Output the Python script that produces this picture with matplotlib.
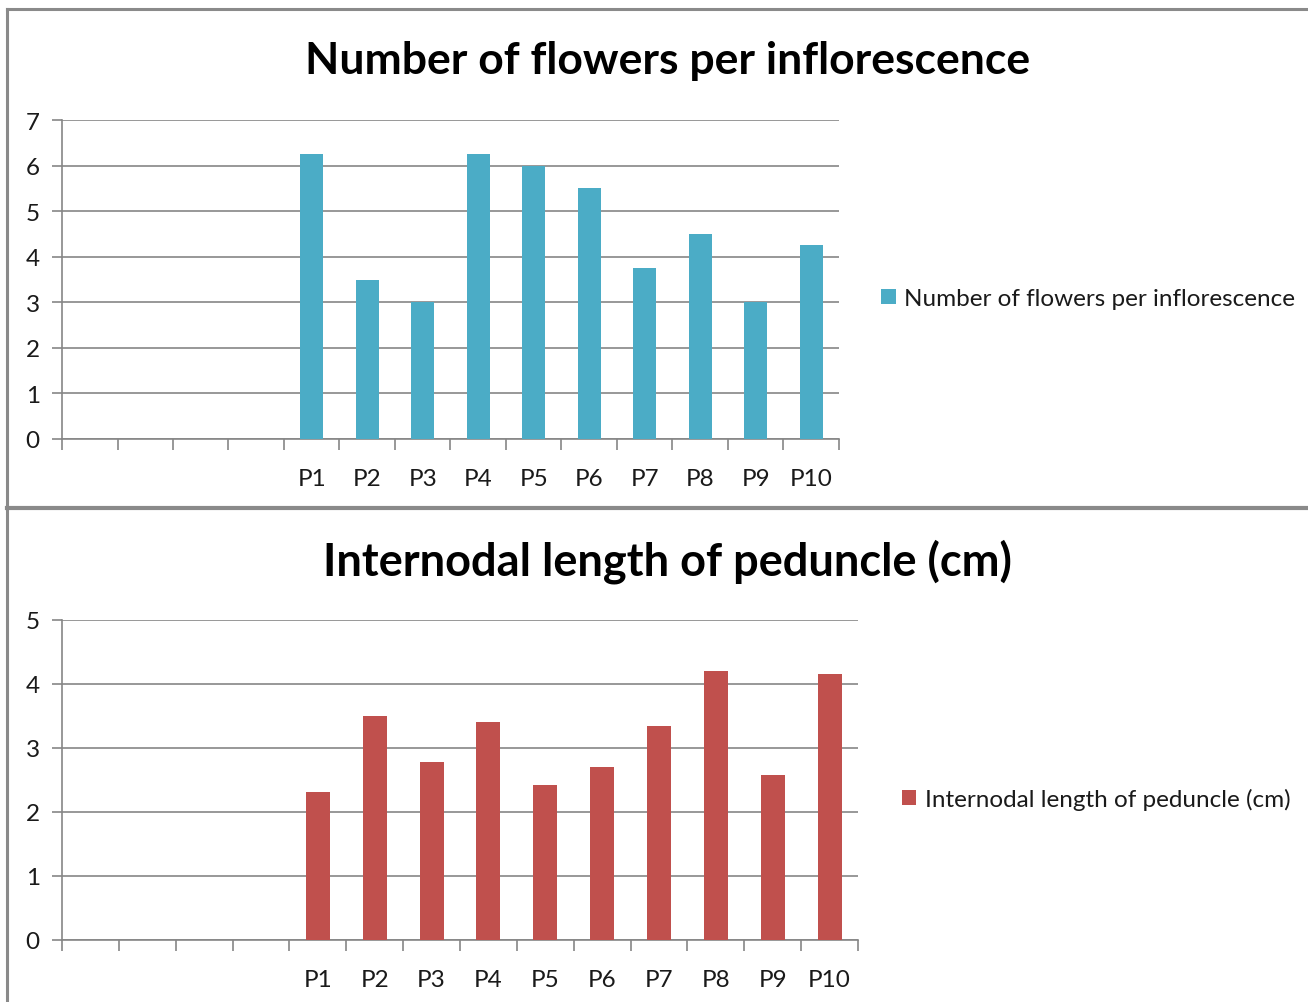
import matplotlib
matplotlib.use("Agg")
import matplotlib.pyplot as plt
import numpy as np
from matplotlib.lines import Line2D

categories = ["", "", "", "", "P1", "P2", "P3", "P4", "P5", "P6", "P7", "P8", "P9", "P10"]
flowers = [np.nan, np.nan, np.nan, np.nan, 6.25, 3.5, 3.0, 6.25, 6.0, 5.5, 3.75, 4.5, 3.0, 4.25]
internode = [np.nan, np.nan, np.nan, np.nan, 2.32, 3.5, 2.78, 3.4, 2.42, 2.7, 3.34, 4.21, 2.58, 4.16]

title1 = "Number of flowers per inflorescence"
title2 = "Internodal length of peduncle (cm)"

plt.rcParams['font.family'] = ['Lato', 'DejaVu Sans']

W, H = 1308, 1003
fig = plt.figure(figsize=(W / 100, H / 100), dpi=100)
fig.patch.set_facecolor("white")

GRID = "#868686"
TXT = "#1a1a1a"

def fx(px):
    return px / W

def fy(py):
    return 1 - py / H

def panel(rect, values, color, ymax, title, title_y, leg_x, title_size):
    ax = fig.add_axes(rect)
    x = np.arange(len(categories))
    ax.bar(x, values, width=0.42, color=color, zorder=3, label=title)
    ax.set_xlim(-0.5, len(categories) - 0.5)
    ax.set_ylim(0, ymax)
    ax.set_yticks(range(0, ymax + 1))
    ax.yaxis.grid(True, color=GRID, linewidth=1.2, zorder=0)
    ax.set_axisbelow(True)
    for s in ["top", "right"]:
        ax.spines[s].set_visible(False)
    for s in ["left", "bottom"]:
        ax.spines[s].set_color(GRID)
        ax.spines[s].set_linewidth(1.2)
    ax.set_xticks(x)
    ax.set_xticklabels(categories)
    ax.set_xticks(np.arange(-0.5, len(categories)), minor=True)
    ax.tick_params(axis="x", which="major", length=0, pad=21, labelsize=17.5, labelcolor=TXT)
    ax.tick_params(axis="x", which="minor", length=8, width=1.2, color=GRID, direction="out")
    ax.tick_params(axis="y", length=7, width=1.2, color=GRID, pad=9, labelsize=17.5, labelcolor=TXT)
    fig.text(0.51, title_y, title, ha="center", va="center", fontsize=title_size,
             fontweight="bold", color="black")
    ax.legend(loc="center left", bbox_to_anchor=(leg_x, 0.44), frameon=False,
              handlelength=0.6, handleheight=0.6, handletextpad=0.35,
              borderpad=0, borderaxespad=0, fontsize=17.5, labelcolor=TXT)
    return ax

ax1 = panel([fx(62), fy(440), fx(839) - fx(62), fy(121) - fy(440)], flowers,
            "#4BACC6", 7, title1, fy(61), 1.054, 32)
ax2 = panel([fx(62), fy(941), fx(858) - fx(62), fy(621) - fy(941)], internode,
            "#C0504D", 5, title2, fy(562), 1.055, 32.5)

# panel borders
border = "#8a8a8a"
fig.add_artist(Line2D([fx(7), 1], [fy(9.5), fy(9.5)], color=border, linewidth=2.2))
fig.add_artist(Line2D([fx(7), fx(7)], [fy(9.5), 0], color=border, linewidth=2.2))
fig.add_artist(Line2D([fx(7), 1], [fy(508.5), fy(508.5)], color=border, linewidth=3))

fig.savefig("out.png", dpi=100, facecolor="white")
